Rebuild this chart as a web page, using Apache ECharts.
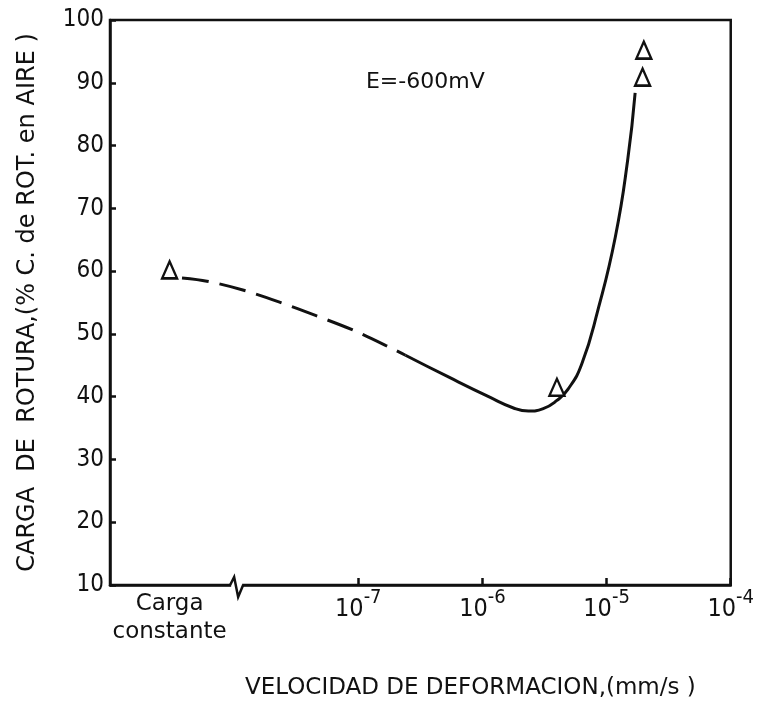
<!DOCTYPE html>
<html>
<head>
<meta charset="utf-8">
<script src="https://cdn.jsdelivr.net/npm/echarts@6/dist/echarts.min.js"></script>
<style>
html,body{margin:0;padding:0;background:#fff;}
#chart{width:757px;height:713px;}
</style>
</head>
<body>
<div id="chart"></div>
<script>
// x is log10 of strain rate (mm/s); left part of axis is the "carga constante" zone
var dashX = [-8.42, -8.22, -7.93, -7.64, -7.34, -7.03, -6.71, -6.62];
var dashY = [58.9, 58.4, 57.0, 55.1, 52.9, 50.5, 47.5, 46.6];
var solidX = [-6.62, -6.27, -5.95, -5.75, -5.63, -5.51, -5.40, -5.31, -5.20, -5.07, -4.93, -4.83, -4.77];
var solidY = [46.6, 43.1, 40.0, 38.2, 37.7, 38.1, 39.4, 41.2, 45.2, 53.8, 65.4, 77.7, 88.4];
var pointX = [-8.52, -5.40, -4.71, -4.70];
var pointY = [60.2, 41.5, 90.9, 95.2];
var tickValues = [-8.52, -7, -6, -5, -4];
var tickLabels = ['Carga\nconstante', '-7', '-6', '-5', '-4'];
var breakAt = [-8, 10];
var noteX = -6.46, noteY = 90.0, noteText = 'E=-600mV';

var ink = '#111';
var numFont = "'DejaVu Sans Condensed', 'Liberation Sans', sans-serif";
var txtFont = "'DejaVu Sans', sans-serif";

function pairs(xs, ys) {
    var out = [];
    for (var i = 0; i < xs.length; i++) out.push([xs[i], ys[i]]);
    return out;
}

var myChart = echarts.init(document.getElementById('chart'));

option = {
    animation: false,
    grid: {
        left: 110, right: 24, top: 20, bottom: 128,
        show: true, borderColor: ink, borderWidth: 2.5
    },
    xAxis: {
        type: 'value',
        min: -9, max: -4, interval: 1,
        name: 'VELOCIDAD DE DEFORMACION,(mm/s )',
        nameLocation: 'middle',
        nameGap: 92,
        nameTextStyle: {fontFamily: txtFont, fontSize: 23, color: ink, padding: [0, 0, 0, 100]},
        axisLine: {lineStyle: {color: ink, width: 2.5}},
        axisTick: {inside: true, length: 7, lineStyle: {color: ink, width: 2.5}, customValues: [-7, -6, -5, -4]},
        splitLine: {show: false},
        axisLabel: {
            customValues: tickValues,
            margin: 3,
            formatter: function (v) {
                var i = tickValues.indexOf(v);
                if (i === 0) return '{c|Carga}\n{c|constante}';
                return '{b|10}{s|' + tickLabels[i] + '}';
            },
            rich: {
                c: {fontFamily: txtFont, fontSize: 23, lineHeight: 28, color: ink, padding: [4, 0, 0, 0]},
                b: {fontFamily: numFont, fontSize: 25, lineHeight: 34, verticalAlign: 'bottom', color: ink},
                s: {fontFamily: numFont, fontSize: 20, lineHeight: 20, verticalAlign: 'top', color: ink}
            }
        }
    },
    yAxis: {
        type: 'value',
        min: 10, max: 100, interval: 10,
        name: 'CARGA  DE  ROTURA,(% C. de ROT. en AIRE )',
        nameLocation: 'middle',
        nameRotate: 90,
        nameGap: 70,
        nameTextStyle: {fontFamily: txtFont, fontSize: 24, color: ink},
        axisLine: {show: true, lineStyle: {color: ink, width: 2.5}},
        axisTick: {show: true, inside: true, length: 6, lineStyle: {color: ink, width: 2.5}},
        splitLine: {show: false},
        axisLabel: {fontFamily: numFont, fontSize: 24, color: ink, margin: 6}
    },
    series: [
        {
            type: 'line',
            data: pairs(dashX, dashY),
            smooth: 0.3,
            symbol: 'none',
            lineStyle: {color: ink, width: 3, type: [27, 11]}
        },
        {
            type: 'line',
            data: pairs(solidX, solidY),
            smooth: 0.5,
            symbol: 'none',
            lineStyle: {color: ink, width: 3}
        },
        {
            type: 'scatter',
            data: pairs(pointX, pointY),
            symbol: 'triangle',
            symbolSize: [15, 17],
            itemStyle: {color: '#fff', borderColor: ink, borderWidth: 2.4, opacity: 1},
            z: 5
        },
        {
            type: 'custom',
            data: [breakAt],
            z: 6,
            renderItem: function (params, api) {
                var p = api.coord([api.value(0), api.value(1)]);
                return {
                    type: 'group',
                    children: [
                        {type: 'rect', shape: {x: p[0] - 3, y: p[1] - 3, width: 11, height: 6}, style: {fill: '#fff'}},
                        {type: 'polyline', shape: {points: [[p[0] - 4, p[1]], [p[0], p[1] - 8], [p[0] + 4, p[1] + 12], [p[0] + 9, p[1]]]},
                            style: {stroke: ink, lineWidth: 2.5, fill: null}}
                    ]
                };
            }
        },
        {
            type: 'custom',
            data: [[noteX, noteY]],
            renderItem: function (params, api) {
                var p = api.coord([api.value(0), api.value(1)]);
                return {type: 'text', x: p[0], y: p[1],
                    style: {text: noteText, fontFamily: txtFont, fontSize: 22, fill: ink, align: 'center', verticalAlign: 'middle'}};
            }
        }
    ]
};

myChart.setOption(option);
</script>
</body>
</html>
